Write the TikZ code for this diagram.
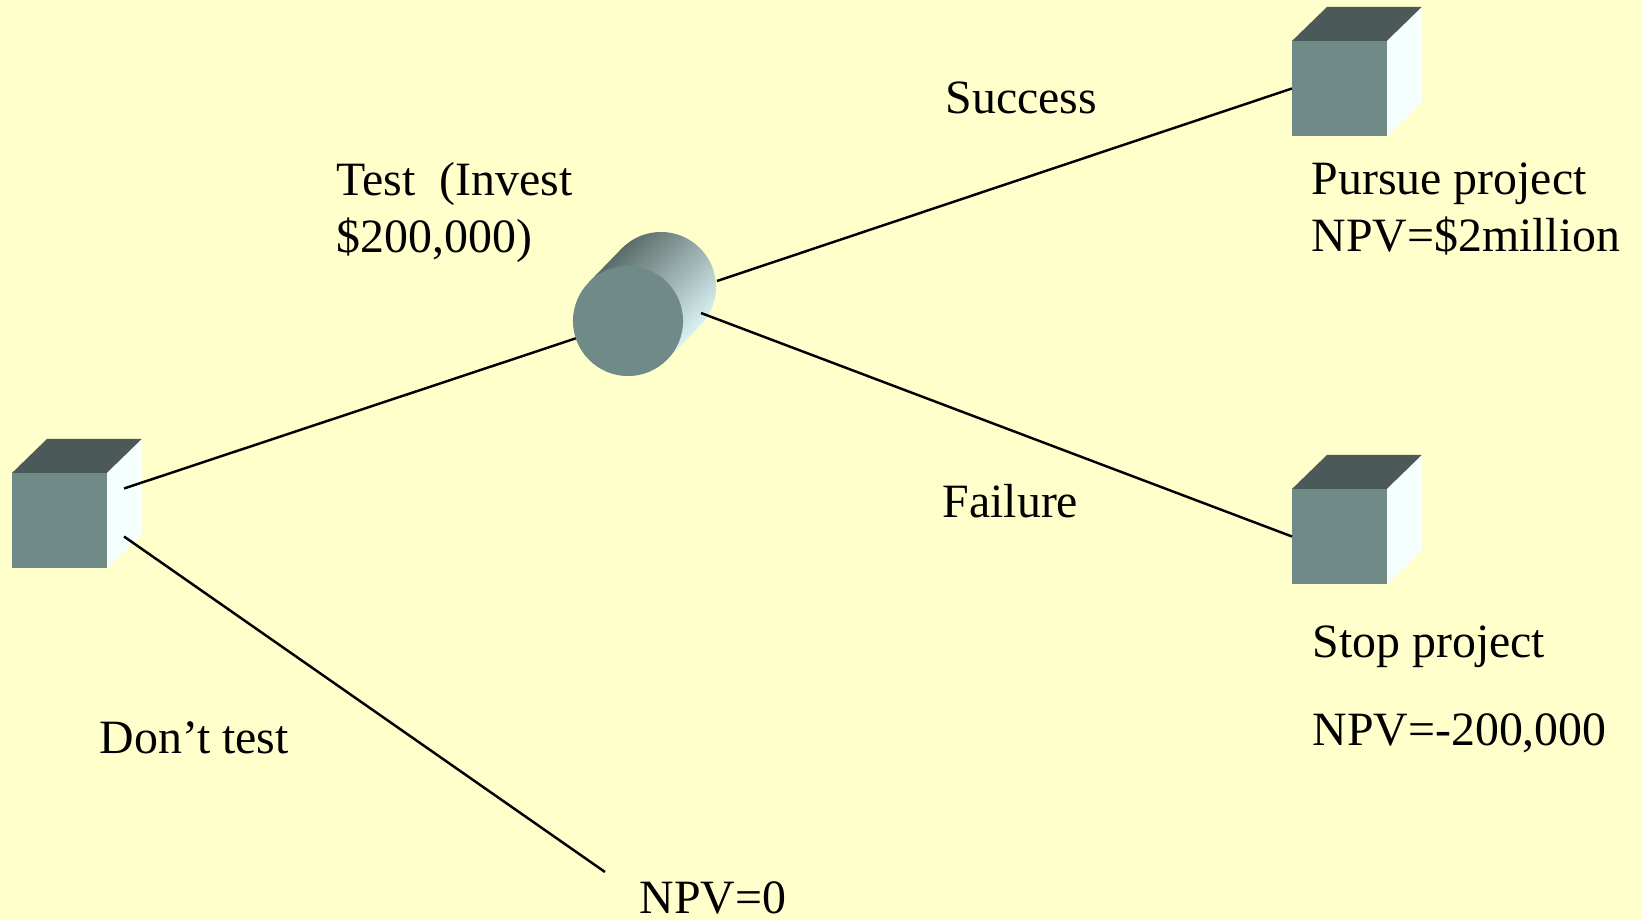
\documentclass[tikz,border=0pt]{standalone}
\usepackage{fontspec}
\setmainfont{Liberation Serif}
\usepackage{tikz}
\usetikzlibrary{calc}
\definecolor{slidebg}{HTML}{FFFFCC}
\definecolor{cubefront}{HTML}{6F8A87}
\definecolor{cubetop}{HTML}{4B5A58}
\definecolor{cubeside}{HTML}{F5FFFF}
\definecolor{drumdark}{HTML}{4E605E}
\definecolor{drummid}{HTML}{86A4A2}
\definecolor{drumlight}{HTML}{E6FFFF}
\tikzset{cube/.style = {fill = cubefront, rectangle, inner sep = 0, outer sep = 0, minimum size = 0.95cm}}
\tikzset{drum/.style = {fill = cubefront, circle, inner sep = 0, outer sep = 0, minimum size = 1.1cm}}
\tikzset{lbl/.style = {anchor = base west, inner sep = 0, align = left, font = \fontsize{13.6}{16.2}\selectfont}}
\tikzset{branch/.style = {line width = 0.7pt}}
\newcommand{\cubesides}[1]{%
  \fill [cubetop] (#1.north west) -- ++(35, 34) -- ++(95, 0) -- (#1.north east) -- cycle;
  \fill [cubeside] (#1.north east) -- ++(35, 34) -- ++(0, -95) -- (#1.south east) -- cycle;
}

\begin{document}
\begin{tikzpicture}[x = 0.01cm, y = 0.01cm]
      \fill [slidebg] (0, 0) rectangle (1641, 920);
      \useasboundingbox (0, 0) rectangle (1641, 920);
      \node [cube] (root) at (59.5, 399.5) {};
      \cubesides{root}
      \node [cube] (pursue) at (1339.5, 831.5) {};
      \cubesides{pursue}
      \node [cube] (stop) at (1339.5, 383.5) {};
      \cubesides{stop}
      \node [drum, fill = none] (drumback) at (661, 633) {};
      \shade [top color = drumdark, middle color = drummid, bottom color = drumlight, shading angle = 45]
        ($(drumback.135) + (-33, -34)$) -- (drumback.135)
        arc [start angle = 135, end angle = -45, radius = 0.55cm]
        -- ($(drumback.-45) + (-33, -34)$) -- cycle;
      \node [drum] (drum) at (628, 599) {};
      \coordinate (root-up) at ($(root.east) + (17, 32)$);
      \coordinate (root-down) at ($(root.east) + (17, -16)$);
      \coordinate (drum-up) at ($(drum.center) + (89, 40)$);
      \coordinate (drum-down) at ($(drum.center) + (73, 8)$);
      \coordinate (npvzero-end) at (605, 48);
      \draw [branch] (root-up) -- (drum);
      \draw [branch] (root-down) -- (npvzero-end);
      \draw [branch] (drum-up) -- (pursue.west);
      \draw [branch] (drum-down) -- (stop.west);
      \node [lbl] (success) at (945, 807) {Success};
      \node [lbl] (test) at (336, 668) {Test~~(Invest\\\$200,000)};
      \node [lbl] (pursuelbl) at (1311, 669) {Pursue project\\NPV=\$2million};
      \node [lbl] (failure) at (942, 403) {Failure};
      \node [lbl] (stoplbl) at (1312, 175) {Stop project\\[8.6pt]NPV=-200,000};
      \node [lbl] (donttest) at (99, 167) {Don’t test};
      \node [lbl] (npvzero) at (639, 7) {NPV=0};
    \end{tikzpicture}
\end{document}
